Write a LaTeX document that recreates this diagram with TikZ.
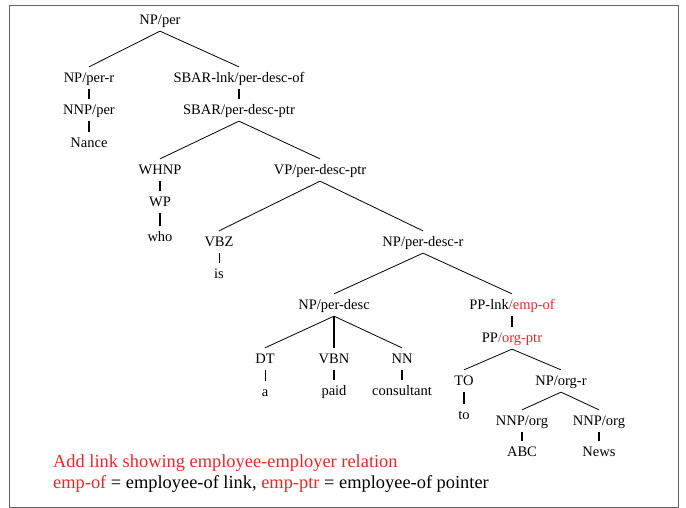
\documentclass[tikz,border=0pt]{standalone}
\usepackage{fontspec}
\setmainfont{Liberation Serif}
\usepackage{xcolor}
\usepackage{tikz}
\definecolor{linkred}{RGB}{234,38,38}
\definecolor{framegray}{RGB}{100,100,100}
\newcommand{\rtag}[1]{\textcolor{linkred}{#1}}

\begin{document}
\begin{tikzpicture}[x=1pt, y=-1pt, font=\fontsize{14.5}{17}\selectfont]
  % one unit is one pixel of the slide, y runs downwards
  \tikzset{lab/.style={inner xsep=1pt, inner ysep=5.2pt,
                       text height=10.5pt, text depth=1pt},
           br/.style={line width=0.8pt},
           un/.style={line width=1.6pt}}
  \useasboundingbox (0,0) rectangle (686,508);
  \draw[framegray, line width=1pt] (9.5,5.5) rectangle (678,507);

  \node[lab] (np)      at (160,20)  {NP/per};
  \node[lab] (nppr)    at (89,78)   {NP/per-r};
  \node[lab] (nnpper)  at (89,110)  {NNP/per};
  \node[lab] (nance)   at (89,143)  {Nance};
  \node[lab] (sbarlnk) at (239,78)  {SBAR-lnk/per-desc-of};
  \node[lab] (sbarptr) at (239,110) {SBAR/per-desc-ptr};
  \node[lab] (whnp)    at (160,170) {WHNP};
  \node[lab] (wp)      at (160,202) {WP};
  \node[lab] (who)     at (160,237) {who};
  \node[lab] (vp)      at (320,170) {VP/per-desc-ptr};
  \node[lab] (vbz)     at (219,242) {VBZ};
  \node[lab] (is)      at (219,274) {is};
  \node[lab] (npdr)    at (423,242) {NP/per-desc-r};
  \node[lab] (npd)     at (334,305) {NP/per-desc};
  \node[lab] (dt)      at (265,359) {DT};
  \node[lab] (vbn)     at (334,359) {VBN};
  \node[lab] (nn)      at (402,359) {NN};
  \node[lab] (a)       at (265,392) {a};
  \node[lab] (paid)    at (334,391) {paid};
  \node[lab] (cons)    at (402,391) {consultant};
  \node[lab] (pplnk)   at (512,305) {PP-lnk\rtag{/emp-of}};
  \node[lab] (ppptr)   at (512,338) {PP\rtag{/org-ptr}};
  \node[lab] (to)      at (464,381) {TO};
  \node[lab] (tow)     at (464,415) {to};
  \node[lab] (npor)    at (561,381) {NP/org-r};
  \node[lab] (nnpa)    at (522,421) {NNP/org};
  \node[lab] (nnpb)    at (599,421) {NNP/org};
  \node[lab] (abc)     at (522,452) {ABC};
  \node[lab] (news)    at (599,452) {News};

  \draw[br] (np.south)--(nppr.north);     \draw[br] (np.south)--(sbarlnk.north);
  \draw[un] (nppr.south)--(nnpper.north); \draw[un] (nnpper.south)--(nance.north);
  \draw[un] (sbarlnk.south)--(sbarptr.north);
  \draw[br] (sbarptr.south)--(whnp.north); \draw[br] (sbarptr.south)--(vp.north);
  \draw[un] (whnp.south)--(wp.north);     \draw[un] (wp.south)--(who.north);
  \draw[br] (vp.south)--(vbz.north);      \draw[br] (vp.south)--(npdr.north);
  \draw[br] (vbz.south)--(is.north);
  \draw[br] (npdr.south)--(npd.north);    \draw[br] (npdr.south)--(pplnk.north);
  \draw[br] (npd.south)--(dt.north);      \draw[un] (npd.south)--(vbn.north);
  \draw[br] (npd.south)--(nn.north);
  \draw[br] (dt.south)--(a.north);        \draw[un] (vbn.south)--(paid.north);
  \draw[un] (nn.south)--(cons.north);
  \draw[un] (pplnk.south)--(ppptr.north);
  \draw[br] (ppptr.south)--(to.north);    \draw[br] (ppptr.south)--(npor.north);
  \draw[un] (to.south)--(tow.north);
  \draw[br] (npor.south)--(nnpa.north);   \draw[br] (npor.south)--(nnpb.north);
  \draw[un] (nnpa.south)--(abc.north);    \draw[un] (nnpb.south)--(news.north);

  \node[anchor=base west, inner sep=0pt, font=\fontsize{18.4}{22}\selectfont,
        text=linkred] (note1) at (53,467) {Add link showing employee-employer relation};
  \node[anchor=base west, inner sep=0pt, font=\fontsize{18.4}{22}\selectfont]
        (note2) at (53,488) {\rtag{emp-of} = employee-of link, \rtag{emp-ptr} = employee-of pointer};
\end{tikzpicture}
\end{document}
